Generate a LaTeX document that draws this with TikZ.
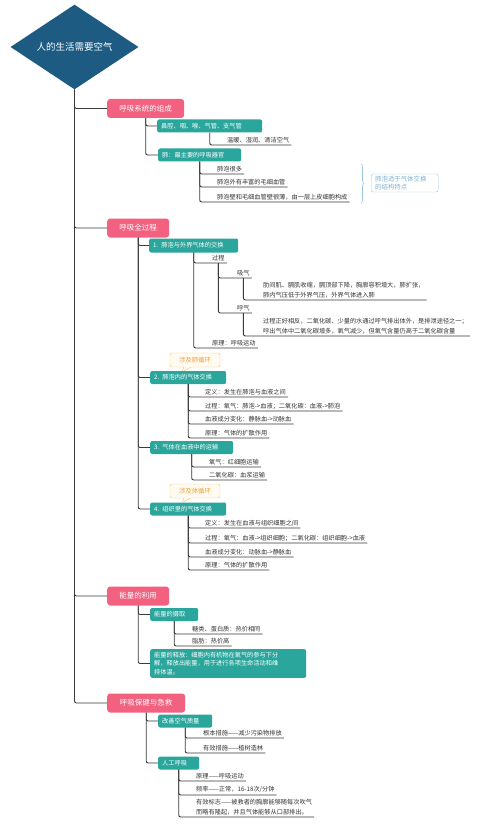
\documentclass[tikz,border=0pt]{standalone}
\usepackage{fontspec}
\setmainfont{Noto Sans CJK SC}
\usepackage{xcolor}
\usepackage{tikz}
\usetikzlibrary{shapes.geometric, shapes.callouts, decorations.pathreplacing}

\definecolor{rootblue}{HTML}{1D5B82}
\definecolor{topicpink}{HTML}{F2617F}
\definecolor{subteal}{HTML}{2BA69C}
\definecolor{linegray}{HTML}{3A3A3A}
\definecolor{leafgray}{HTML}{333333}
\definecolor{noteorange}{HTML}{F5C46C}
\definecolor{notefill}{HTML}{FFFBF2}
\definecolor{notetext}{HTML}{EDA23A}
\definecolor{infoblue}{HTML}{9CC6E0}
\definecolor{infotext}{HTML}{79B0D3}

\begin{document}
\begin{tikzpicture}[
    x=1pt, y=-1pt,
    rootbox/.style={diamond, fill=rootblue, text=white, minimum width=128pt, minimum height=73pt, inner sep=0pt, font=\fontsize{9.5}{11}\selectfont},
    topicbox/.style={rectangle, rounded corners=3pt, fill=topicpink, text=white, minimum height=19pt, inner sep=0pt, anchor=west, font=\fontsize{7.5}{9}\selectfont},
    subbox/.style={rectangle, rounded corners=2pt, fill=subteal, text=white, minimum height=13pt, inner xsep=4pt, inner ysep=0pt, anchor=west, align=left, font=\fontsize{6.2}{8.5}\selectfont},
    leaf/.style={inner xsep=2pt, inner ysep=1.8pt, anchor=south west, align=left, text=leafgray, font=\fontsize{6.2}{9.5}\selectfont},
    note/.style={rectangle callout, rounded corners=2pt, draw=noteorange, fill=notefill, text=notetext, minimum width=50pt, minimum height=14pt, inner sep=0pt, font=\fontsize{6.4}{8}\selectfont},
    infobox/.style={draw=infoblue, rounded corners=2pt, text=infotext, align=left, inner xsep=4pt, inner ysep=2pt, anchor=west, font=\fontsize{6.4}{8}\selectfont},
    conn/.style={draw=linegray, line width=0.9pt, rounded corners=2pt}
]
\useasboundingbox (0,0) rectangle (497,829);

% Root
\node[rootbox] (root) at (74.5,47) {人的生活需要空气};

% Topics
\node[topicbox, minimum width=77pt] (organs) at (107,108.5) {呼吸系统的组成};
\node[topicbox, minimum width=62pt] (process) at (107,228) {呼吸全过程};
\node[topicbox, minimum width=62pt] (energy) at (107,596) {能量的利用};
\node[topicbox, minimum width=78pt] (care) at (107,703) {呼吸保健与急救};

% Respiratory organs
\node[subbox, text width=97pt] (airway) at (157,126) {鼻腔、咽、喉、气管、支气管};
\node[subbox, text width=75pt] (lung) at (158,155) {肺：最主要的呼吸器官};
\node[leaf] (airwayfn) at (225,145) {温暖、湿润、清洁空气};
\node[leaf] (lungA) at (215,174) {肺泡很多};
\node[leaf] (lungB) at (215,187) {肺泡外有丰富的毛细血管};
\node[leaf] (lungC) at (215,202) {肺泡壁和毛细血管壁很薄，由一层上皮细胞构成};
\draw[infoblue, line width=0.6pt, decorate, decoration={brace, amplitude=3pt}] (361,164) -- (361,203);
\node[infobox, text width=59pt] (lungnote) at (371,183) {肺泡适于气体交换\\的结构特点};

% Whole process
\node[subbox, text width=81pt, minimum height=14pt] (stepA) at (149,245.5) {1. 肺泡与外界气体的交换};
\node[leaf] (gc) at (210,263) {过程};
\node[leaf] (inhale) at (235,278) {吸气};
\node[leaf] (inhaleTxt) at (261,300) {肋间肌、膈肌收缩，膈顶部下降，胸廓容积增大，肺扩张，\\肺内气压低于外界气压，外界气体进入肺};
\node[leaf] (exhale) at (235,313) {呼气};
\node[leaf] (exhaleTxt) at (261,336) {过程正好相反，二氧化碳、少量的水通过呼气排出体外，是排泄途径之一；\\呼出气体中二氧化碳增多，氧气减少，但氧气含量仍高于二氧化碳含量};
\node[leaf] (yl) at (210,348) {原理：呼吸运动};

\node[note, callout absolute pointer={(182,372)}] (pulm) at (195,360) {涉及肺循环};
\node[subbox, text width=68pt] (stepB) at (150,377.5) {2. 肺泡内的气体交换};
\node[leaf] (bA) at (203,397) {定义：发生在肺泡与血液之间};
\node[leaf] (bB) at (203,411) {过程：氧气：肺泡->血液；二氧化碳：血液->肺泡};
\node[leaf] (bC) at (203,424) {血液成分变化：静脉血->动脉血};
\node[leaf] (bD) at (203,438) {原理：气体的扩散作用};

\node[subbox, text width=75pt] (stepC) at (150,447.5) {3. 气体在血液中的运输};
\node[leaf] (cA) at (207,467) {氧气：红细胞运输};
\node[leaf] (cB) at (207,480) {二氧化碳：血浆运输};

\node[note, callout absolute pointer={(182,503)}] (syst) at (195,491) {涉及体循环};
\node[subbox, text width=68pt] (stepD) at (150,509) {4. 组织里的气体交换};
\node[leaf] (dA) at (203,528) {定义：发生在血液与组织细胞之间};
\node[leaf] (dB) at (203,543) {过程：氧气：血液->组织细胞；二氧化碳：组织细胞->血液};
\node[leaf] (dC) at (203,557) {血液成分变化：动脉血->静脉血};
\node[leaf] (dD) at (203,570) {原理：气体的扩散作用};

% Energy
\node[subbox, text width=40pt] (intake) at (150,614.5) {能量的摄取};
\node[leaf] (iA) at (190,634) {糖类、蛋白质：热价相同};
\node[leaf] (iB) at (190,646) {脂肪：热价高};
\node[subbox, text width=148pt, inner ysep=3pt] (release) at (150,663.5) {能量的释放：细胞内有机物在氧气的参与下分\\解，释放出能量，用于进行各项生命活动和维\\持体温。};

% Health care and first aid
\node[subbox, text width=46pt] (air) at (158,721) {改善空气质量};
\node[leaf] (airA) at (201,738) {根本措施——减少污染物排放};
\node[leaf] (airB) at (201,753) {有效措施——植树造林};
\node[subbox, text width=33pt] (cpr) at (158,763) {人工呼吸};
\node[leaf] (cprA) at (194,781) {原理——呼吸运动};
\node[leaf] (cprB) at (194,795) {频率——正常，16-18次/分钟};
\node[leaf] (cprC) at (194,817) {有效标志——被救者的胸廓能够随每次吹气\\而略有隆起，并且气体能够从口部排出。};

% Connections
\foreach \t in {organs, process, energy, care}
    \draw[conn] (root.south) |- (\t.west);
\foreach \a/\b in {organs/airway, organs/lung, process/stepA, process/stepB, process/stepC, process/stepD,
                   energy/intake, energy/release, care/air, care/cpr}
    \draw[conn] (\a.south) |- (\b.west);
\foreach \a/\b in {airway/airwayfn, lung/lungA, lung/lungB, lung/lungC,
                   stepA/gc, gc/inhale, inhale/inhaleTxt, gc/exhale, exhale/exhaleTxt, stepA/yl,
                   stepB/bA, stepB/bB, stepB/bC, stepB/bD, stepC/cA, stepC/cB,
                   stepD/dA, stepD/dB, stepD/dC, stepD/dD, intake/iA, intake/iB,
                   air/airA, air/airB, cpr/cprA, cpr/cprB, cpr/cprC}
    \draw[conn] (\a.south) |- (\b.south east);

\end{tikzpicture}
\end{document}
